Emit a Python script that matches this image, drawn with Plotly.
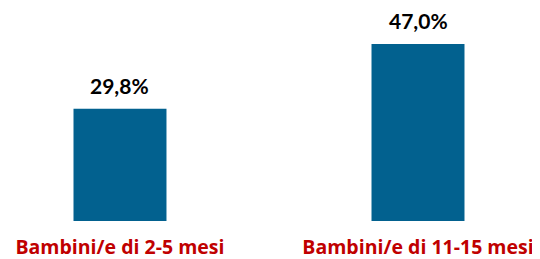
import plotly.graph_objects as go

categories = ["Bambini/e di 2-5 mesi", "Bambini/e di 11-15 mesi"]
values = [29.8, 47.0]

BAR_COLOR = "#02618F"
RED = "#C00000"

fig = go.Figure()
fig.add_trace(go.Bar(
    x=list(range(len(categories))),
    y=values,
    width=0.312,
    marker=dict(color=BAR_COLOR, line=dict(width=0)),
    hoverinfo="skip",
))

for i, v in enumerate(values):
    fig.add_annotation(
        x=i, y=v, xref="x", yref="y",
        text=f"<b>{v:.1f}%</b>".replace(".", ","),
        showarrow=False, yanchor="bottom", yshift=10, borderpad=0,
        font=dict(family="Lato", size=21, color="#000000"),
    )

fig.update_layout(
    width=532, height=251,
    margin=dict(l=0, r=0, t=0, b=38, pad=0),
    paper_bgcolor="white", plot_bgcolor="white",
    showlegend=False,
    separators=",.",
    xaxis=dict(
        range=[-0.3758, 1.4094],
        tickmode="array",
        tickvals=list(range(len(categories))),
        ticktext=[f"<b>{c}</b>" for c in categories],
        tickfont=dict(family="Open Sans", size=19.5, color=RED),
        ticklabelstandoff=12,
        showgrid=False, zeroline=False, showline=False, ticks="",
        automargin=False,
    ),
    yaxis=dict(
        range=[0, 56.56],
        visible=False,
        showgrid=False, zeroline=False,
    ),
)

fig.write_html("out.html")
